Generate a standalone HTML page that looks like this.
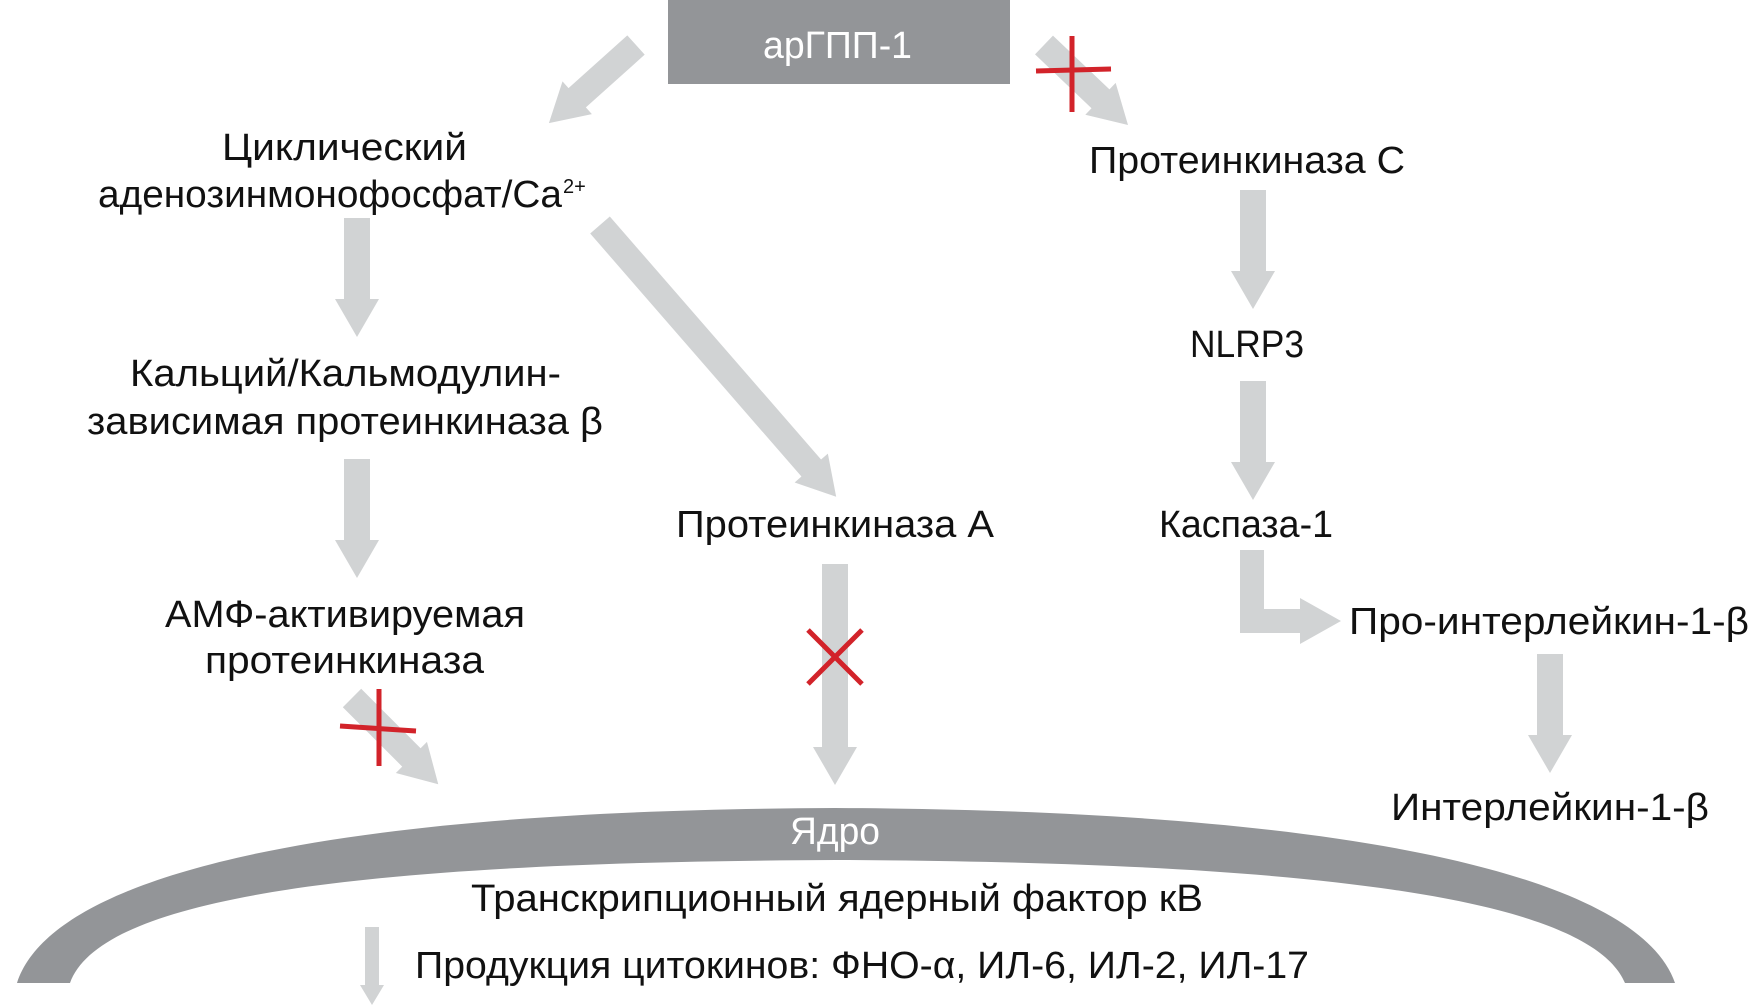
<!DOCTYPE html>
<html><head><meta charset="utf-8"><style>
html,body{margin:0;padding:0;background:#fff;}
svg{display:block;}
text{font-family:"Liberation Sans",sans-serif;font-size:38px;fill:#111;}
</style></head><body>
<svg width="1751" height="1006" viewBox="0 0 1751 1006" xmlns="http://www.w3.org/2000/svg">
<rect x="668" y="0" width="342" height="84" fill="#939598"/>
<text x="763" y="58" textLength="149" lengthAdjust="spacingAndGlyphs" style="fill:#fff">арГПП-1</text>

<g fill="#d1d3d4">
<g transform="translate(636,45) rotate(138.1)"><polygon points="0,-13 79,-13 79,-22 117,0 79,22 79,13 0,13"/></g>
<g transform="translate(1044,45) rotate(43.6)"><polygon points="0,-13 78,-13 78,-22 116,0 78,22 78,13 0,13"/></g>
<g transform="translate(600,225) rotate(49)"><polygon points="0,-13 322,-13 322,-22 360,0 322,22 322,13 0,13"/></g>
<g transform="translate(352,698) rotate(45)"><polygon points="0,-13 84,-13 84,-22 122,0 84,22 84,13 0,13"/></g>
<g transform="translate(357,218) rotate(90)"><polygon points="0,-13 81,-13 81,-22 119,0 81,22 81,13 0,13"/></g>
<g transform="translate(357,459) rotate(90)"><polygon points="0,-13 81,-13 81,-22 119,0 81,22 81,13 0,13"/></g>
<g transform="translate(1253,190) rotate(90)"><polygon points="0,-13 81,-13 81,-22 119,0 81,22 81,13 0,13"/></g>
<g transform="translate(1253,381) rotate(90)"><polygon points="0,-13 81,-13 81,-22 119,0 81,22 81,13 0,13"/></g>
<g transform="translate(1550,654) rotate(90)"><polygon points="0,-13 81,-13 81,-22 119,0 81,22 81,13 0,13"/></g>
<g transform="translate(835,564) rotate(90)"><polygon points="0,-13 183,-13 183,-22 221,0 183,22 183,13 0,13"/></g>
<polygon points="1240,550 1264,550 1264,609 1300,609 1300,598 1341,621 1300,644 1300,633 1240,633"/>
<g transform="translate(372,927) rotate(90)"><polygon points="0,-7 58,-7 58,-12 78,0 58,12 58,7 0,7"/></g>
</g>

<g stroke="#d2232a" stroke-width="5" fill="none">
<line x1="1036" y1="71" x2="1111" y2="69"/><line x1="1072" y1="36" x2="1072" y2="112"/>
<line x1="340" y1="726" x2="416" y2="731"/><line x1="379" y1="689" x2="379" y2="766"/>
<line x1="808" y1="630" x2="862" y2="684"/><line x1="862" y1="630" x2="808" y2="684"/>
</g>

<path d="M17 983 C50 880 300 810 835 808 C1370 810 1640 880 1675 983 L1625 983 C1590 900 1330 862 835 860 C340 862 100 900 70 983 Z" fill="#939598"/>

<text x="222" y="160" textLength="245" lengthAdjust="spacingAndGlyphs">Циклический</text>
<text x="98" y="207" textLength="464" lengthAdjust="spacingAndGlyphs">аденозинмонофосфат/Ca</text>
<text x="563" y="193" style="font-size:20px">2+</text>
<text x="1089" y="173" textLength="316" lengthAdjust="spacingAndGlyphs">Протеинкиназа С</text>
<text x="1190" y="357" textLength="114" lengthAdjust="spacingAndGlyphs">NLRP3</text>
<text x="1159" y="537" textLength="174" lengthAdjust="spacingAndGlyphs">Каспаза-1</text>
<text x="1349" y="634" textLength="400" lengthAdjust="spacingAndGlyphs">Про-интерлейкин-1-β</text>
<text x="1391" y="820" textLength="318" lengthAdjust="spacingAndGlyphs">Интерлейкин-1-β</text>
<text x="130" y="386" textLength="431" lengthAdjust="spacingAndGlyphs">Кальций/Кальмодулин-</text>
<text x="87" y="434" textLength="516" lengthAdjust="spacingAndGlyphs">зависимая протеинкиназа β</text>
<text x="676" y="537" textLength="318" lengthAdjust="spacingAndGlyphs">Протеинкиназа А</text>
<text x="165" y="627" textLength="360" lengthAdjust="spacingAndGlyphs">АМФ-активируемая</text>
<text x="205" y="673" textLength="279" lengthAdjust="spacingAndGlyphs">протеинкиназа</text>
<text x="790" y="844" textLength="90" lengthAdjust="spacingAndGlyphs" style="fill:#fff">Ядро</text>
<text x="471" y="911" textLength="732" lengthAdjust="spacingAndGlyphs">Транскрипционный ядерный фактор кВ</text>
<text x="415" y="978" textLength="894" lengthAdjust="spacingAndGlyphs">Продукция цитокинов: ФНО-α, ИЛ-6, ИЛ-2, ИЛ-17</text>
</svg>
</body></html>
